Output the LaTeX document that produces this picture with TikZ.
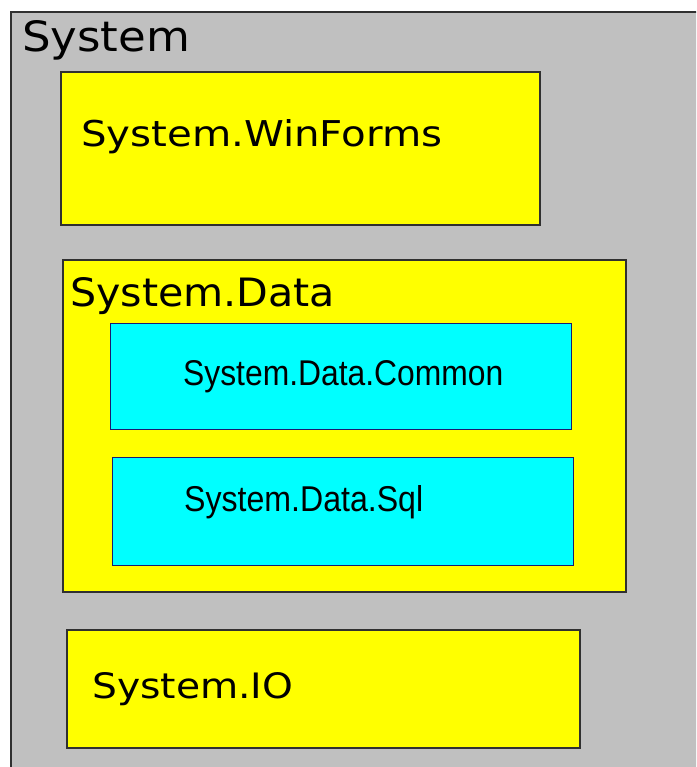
\documentclass[tikz,border=0pt]{standalone}
\usepackage{fontspec}
\setmainfont{DejaVu Sans}
\newfontfamily\narrowfont{Liberation Sans}
\usepackage{graphicx}
\definecolor{sysgray}{HTML}{C0C0C0}
\definecolor{nsyellow}{HTML}{FFFF00}
\definecolor{nscyan}{HTML}{00FFFF}
\definecolor{edgedark}{HTML}{303030}
\definecolor{edgeblue}{HTML}{1A1A70}
\tikzset{
  sysbox/.style={draw=edgedark, line width=2pt, fill=sysgray, anchor=north west, inner sep=0pt},
  yelbox/.style={draw=edgedark, line width=2pt, fill=nsyellow, anchor=north west, inner sep=0pt},
  cyanbox/.style={draw=edgeblue, line width=1.4pt, fill=nscyan, anchor=north west, inner sep=0pt},
  lbl/.style={anchor=base west, inner sep=0pt, text=black}
}
\begin{document}
\begin{tikzpicture}[x=1pt,y=-1pt]
\useasboundingbox (0,0) rectangle (696,767);
\clip (0,0) rectangle (696,767);
\fill[white] (0,0) rectangle (696,767);
% outer System box (extends beyond the page on right and bottom)
\node[sysbox, minimum width=720pt, minimum height=780pt] (sys) at (10,11) {};
\node[lbl] (syslbl) at (22,52) {\resizebox{168pt}{31pt}{System}};
% WinForms
\node[yelbox, minimum width=479pt, minimum height=153pt] (wf) at (60,71) {};
\node[lbl] (wflbl) at (81,147) {\resizebox{361pt}{27pt}{System.WinForms}};
% Data
\node[yelbox, minimum width=563pt, minimum height=332pt] (data) at (62,259) {};
\node[lbl] (datalbl) at (70,306) {\resizebox{265pt}{29pt}{System.Data}};
% Common
\node[cyanbox, minimum width=461pt, minimum height=106pt] (common) at (110,323) {};
\node[lbl] (commonlbl) at (183,385) {\resizebox{320pt}{25pt}{\narrowfont System.Data.Common}};
% Sql
\node[cyanbox, minimum width=461pt, minimum height=108pt] (sql) at (112,457) {};
\node[lbl] (sqllbl) at (184,511) {\resizebox{239pt}{26pt}{\narrowfont System.Data.Sql}};
% IO
\node[yelbox, minimum width=513pt, minimum height=118pt] (io) at (66,629) {};
\node[lbl] (iolbl) at (92,698) {\resizebox{201pt}{26pt}{System.IO}};
\end{tikzpicture}
\end{document}
